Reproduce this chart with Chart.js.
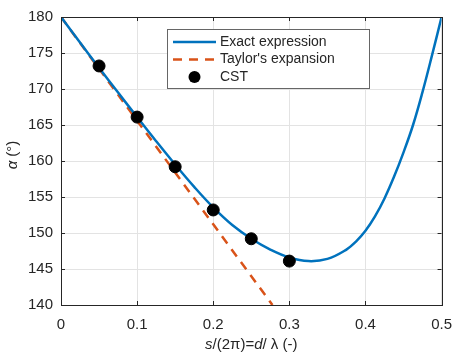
<!DOCTYPE html>
<html>
<head>
<meta charset="utf-8">
<script src="https://cdn.jsdelivr.net/npm/chart.js@4/dist/chart.umd.min.js"></script>
<style>
  html, body { margin: 0; padding: 0; background: #fff; }
  #wrap { width: 463px; height: 354px; }
</style>
</head>
<body>
<div id="wrap"><canvas id="cv" width="463" height="354"></canvas></div>
<script>
//-------------------Data-------------------
// exact expression
const exactX = [0, 0.025, 0.05, 0.075, 0.1, 0.125, 0.15, 0.175, 0.2, 0.225, 0.25, 0.275, 0.3, 0.325, 0.35, 0.375, 0.3875, 0.4, 0.4125, 0.425, 0.4375, 0.45, 0.4625, 0.475, 0.4875, 0.5];
const exactY = [180, 176.45, 172.95, 169.5, 166.1, 162.75, 159.5, 156.4, 153.55, 151.1, 149.2, 147.7, 146.6, 146.1, 146.4, 147.7, 148.8, 150.3, 152.3, 154.8, 157.8, 161.2, 165.0, 169.6, 174.7, 180];

// taylor's expansion (straight line)
const taylorX = [0, 0.2778];
const taylorY = [180, 140];

// CST points
const cstX = [0.05, 0.1, 0.15, 0.2, 0.25, 0.3];
const cstY = [173.2, 166.1, 159.2, 153.2, 149.2, 146.1];

const xTicks = [0, 0.1, 0.2, 0.3, 0.4, 0.5];
const yTicks = [140, 145, 150, 155, 160, 165, 170, 175, 180];

const legendLabels = ['Exact expression', "Taylor's expansion", 'CST'];

//-------------------Style-------------------
const BLUE = '#0072BD';
const ORANGE = '#D95319';
const INK = '#262626';
const FONT = '"Liberation Sans", Arial, Helvetica, sans-serif';

function toPoints(xs, ys){
  return xs.map((x, i) => ({x: x, y: ys[i]}));
}

//-------------------Plugins-------------------
// box round the axes with inward ticks (like matlab)
const boxPlugin = {
  id: 'box',
  afterDatasetsDraw(chart){
    const ctx = chart.ctx;
    const a = chart.chartArea;
    const sx = chart.scales.x, sy = chart.scales.y;
    ctx.save();
    ctx.strokeStyle = INK;
    ctx.lineWidth = 1;
    const t = 4;
    ctx.beginPath();
    xTicks.forEach(v => {
      const px = Math.round(sx.getPixelForValue(v)) + 0.5;
      ctx.moveTo(px, a.bottom); ctx.lineTo(px, a.bottom - t);
      ctx.moveTo(px, a.top); ctx.lineTo(px, a.top + t);
    });
    yTicks.forEach(v => {
      const py = Math.round(sy.getPixelForValue(v)) + 0.5;
      ctx.moveTo(a.left, py); ctx.lineTo(a.left + t, py);
      ctx.moveTo(a.right, py); ctx.lineTo(a.right - t, py);
    });
    ctx.stroke();
    ctx.strokeRect(Math.round(a.left) + 0.5, Math.round(a.top) + 0.5,
      Math.round(a.right - a.left), Math.round(a.bottom - a.top));
    ctx.restore();
  }
};

// legend box inside the plot
const legendPlugin = {
  id: 'boxLegend',
  afterDraw(chart){
    const ctx = chart.ctx;
    const x0 = 167, y0 = 29, w = 202, h = 59;
    ctx.save();
    ctx.fillStyle = '#fff';
    ctx.fillRect(x0, y0, w, h);
    ctx.strokeStyle = '#666';
    ctx.lineWidth = 1;
    ctx.strokeRect(x0 + 0.5, y0 + 0.5, w, h);

    const rows = [y0 + 13, y0 + 30.5, y0 + 48];
    const l1 = x0 + 6, l2 = x0 + 49;
    // exact
    ctx.lineWidth = 2.5;
    ctx.strokeStyle = BLUE;
    ctx.beginPath(); ctx.moveTo(l1, rows[0]); ctx.lineTo(l2, rows[0]); ctx.stroke();
    // taylor
    ctx.strokeStyle = ORANGE;
    ctx.setLineDash([9, 7]);
    ctx.beginPath(); ctx.moveTo(l1, rows[1]); ctx.lineTo(l2, rows[1]); ctx.stroke();
    ctx.setLineDash([]);
    // cst
    ctx.fillStyle = '#000';
    ctx.beginPath(); ctx.arc((l1 + l2) / 2, rows[2], 6, 0, Math.PI * 2); ctx.fill();

    ctx.fillStyle = INK;
    ctx.font = '14px ' + FONT;
    ctx.textBaseline = 'middle';
    ctx.textAlign = 'left';
    legendLabels.forEach((s, i) => ctx.fillText(s, x0 + 53, rows[i]));
    ctx.restore();
  }
};

// draw a line of text made of normal / italic parts, centered at cx
function drawParts(ctx, parts, cx, cy, size){
  let total = 0;
  parts.forEach(p => {
    ctx.font = (p[1] ? 'italic ' : '') + size + 'px ' + FONT;
    total += ctx.measureText(p[0]).width;
  });
  let x = cx - total / 2;
  parts.forEach(p => {
    ctx.font = (p[1] ? 'italic ' : '') + size + 'px ' + FONT;
    ctx.fillText(p[0], x, cy);
    x += ctx.measureText(p[0]).width;
  });
}

// axis titles
const titlePlugin = {
  id: 'axisTitles',
  afterDraw(chart){
    const ctx = chart.ctx;
    const a = chart.chartArea;
    ctx.save();
    ctx.fillStyle = INK;
    ctx.textBaseline = 'middle';
    ctx.textAlign = 'left';
    drawParts(ctx, [['s', true], ['/(2\u03C0)=', false], ['d', true], ['/ \u03BB (-)', false]],
      (a.left + a.right) / 2, 345, 15);
    ctx.translate(13, 155);
    ctx.rotate(-Math.PI / 2);
    drawParts(ctx, [['\u03B1', true], [' (\u00B0)', false]], 0, 0, 15);
    ctx.restore();
  }
};

//-------------------Chart-------------------
function drawChart(){
  const ctx = document.getElementById('cv').getContext('2d');
  new Chart(ctx, {
    type: 'scatter',
    data: {
      datasets: [
        {
          label: legendLabels[0],
          data: toPoints(exactX, exactY),
          showLine: true,
          borderColor: BLUE,
          borderWidth: 2.5,
          pointRadius: 0,
          tension: 0.4,
          order: 2
        },
        {
          label: legendLabels[1],
          data: toPoints(taylorX, taylorY),
          showLine: true,
          borderColor: ORANGE,
          borderWidth: 2.5,
          borderDash: [9, 7],
          pointRadius: 0,
          order: 3
        },
        {
          label: legendLabels[2],
          data: toPoints(cstX, cstY),
          backgroundColor: '#000',
          borderColor: '#000',
          pointRadius: 6,
          order: 1
        }
      ]
    },
    options: {
      responsive: false,
      animation: false,
      layout: { padding: { left: 0, right: 12, top: 10, bottom: 0 } },
      plugins: { legend: { display: false }, tooltip: { enabled: false } },
      scales: {
        x: {
          type: 'linear', min: 0, max: 0.5,
          afterFit: s => { s.height = 49; },
          afterBuildTicks: s => { s.ticks = xTicks.map(v => ({value: v})); },
          grid: { color: '#e3e3e3', drawTicks: false },
          border: { display: false },
          ticks: { color: INK, font: { family: FONT, size: 15 }, padding: 11,
            maxRotation: 0, callback: v => String(v) }
        },
        y: {
          type: 'linear', min: 140, max: 180,
          afterFit: s => { s.width = 61; },
          afterBuildTicks: s => { s.ticks = yTicks.map(v => ({value: v})); },
          grid: { color: '#e3e3e3', drawTicks: false },
          border: { display: false },
          ticks: { color: INK, font: { family: FONT, size: 15 }, padding: 8 }
        }
      }
    },
    plugins: [boxPlugin, legendPlugin, titlePlugin]
  });
}

drawChart();
</script>
</body>
</html>
